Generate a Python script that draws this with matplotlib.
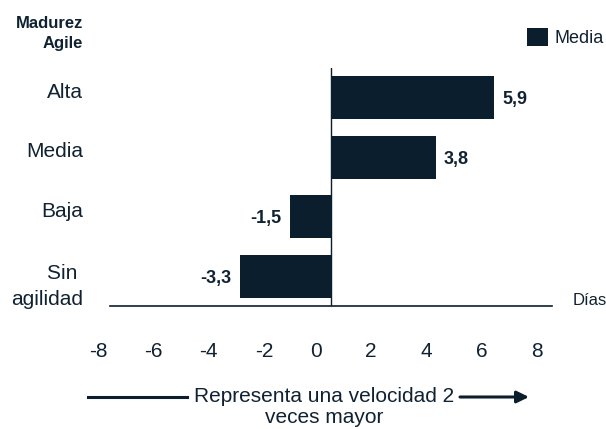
import matplotlib
matplotlib.use("Agg")
import matplotlib.pyplot as plt
from matplotlib.transforms import ScaledTranslation, blended_transform_factory
from matplotlib.patches import Patch, FancyArrowPatch

# ---------------- data ----------------
categories = ["Sin \nagilidad", "Baja", "Media", "Alta"]
values = [-3.3, -1.5, 3.8, 5.9]
value_labels = ["-3,3", "-1,5", "3,8", "5,9"]
x_ticks = [-8, -6, -4, -2, 0, 2, 4, 6, 8]
x_tick_labels = ["-8", "-6", "-4", "-2", "0", "2", "4", "6", "8"]
series_name = "Media"
y_title = "Madurez\nAgile"
x_unit = "Días"
note = "Representa una velocidad 2\nveces mayor"

# ---------------- style ----------------
W, H, DPI = 606, 429, 100
BAR = "#0a1e2d"
TXT = "#102231"
PT = 72 / DPI  # points per pixel
plt.rcParams["font.family"] = ["Liberation Sans", "DejaVu Sans"]

fig = plt.figure(figsize=(W / DPI, H / DPI), dpi=DPI)

def fx(px):
    return px / W

def fy(py):
    return (H - py) / H

ax = fig.add_axes([fx(110), fy(306), fx(552) - fx(110), fy(68) - fy(306)])
ypos = list(range(len(categories)))
ax.barh(ypos, values, height=0.72, color=BAR, zorder=3)
ax.axvline(0, color=BAR, lw=1.0, zorder=2)
ax.set_xlim(-8, 8)
ax.set_ylim(-0.5, 3.5)

for s in ["top", "right", "left"]:
    ax.spines[s].set_visible(False)
ax.spines["bottom"].set_color(BAR)
ax.spines["bottom"].set_linewidth(1.2)
ax.set_yticks([])

# x tick labels (left-aligned, shifted left as in the reference)
ax.set_xticks(x_ticks, x_tick_labels)
ax.tick_params(axis="x", length=0, pad=26, labelsize=15, labelcolor=TXT)
shift = ScaledTranslation(-21 / DPI, 0, fig.dpi_scale_trans)
for lab in ax.get_xticklabels():
    lab.set_horizontalalignment("left")
    lab.set_transform(lab.get_transform() + shift)

# category labels (first line baseline near bar centre)
cat_tr = blended_transform_factory(fig.transFigure, ax.transData)
for y, c in zip(ypos, categories):
    extra = c.count("\n")
    ax.annotate(c, (fx(83), y), xycoords=cat_tr,
                xytext=(0, -(2 + 27 * extra) * PT if extra else 0),
                textcoords="offset points", ha="right", va="baseline",
                fontsize=15, color=TXT, linespacing=1.47)

# value labels
for y, v, lab in zip(ypos, values, value_labels):
    off = 8 * PT if v >= 0 else -8 * PT
    ax.annotate(lab, (v, y), xytext=(off, -6.5 * PT), textcoords="offset points",
                ha="left" if v >= 0 else "right", va="baseline",
                fontsize=13, fontweight="bold", color=TXT, zorder=4)

# axis title (top-left); baseline of last line
fig.text(fx(83), fy(48), y_title, ha="right", va="baseline", fontsize=12,
         fontweight="bold", color=TXT, linespacing=1.43)

# unit label at the end of the axis
ax.text(1, 0, x_unit, transform=ax.transAxes + ScaledTranslation(21 / DPI, 1 / DPI, fig.dpi_scale_trans),
        ha="left", va="baseline", fontsize=12, color=TXT)

# legend
leg = fig.legend(handles=[Patch(facecolor=BAR, edgecolor="none", label=series_name)],
                 loc="upper right", bbox_to_anchor=(fx(604), fy(28)), frameon=False,
                 borderpad=0, borderaxespad=0, handlelength=1.16, handleheight=1.16,
                 handletextpad=0.35, fontsize=13)
for t in leg.get_texts():
    t.set_color(TXT)

# bottom note with arrows (baseline of last line)
fig.text(fx(324), fy(423), note, ha="center", va="baseline", fontsize=15,
         color=TXT, linespacing=1.12)
fig.add_artist(plt.Line2D([fx(88), fx(187)], [fy(397), fy(397)], color=BAR, lw=2.2,
                          transform=fig.transFigure))
fig.add_artist(FancyArrowPatch(
    (fx(460), fy(397)), (fx(529), fy(397)), transform=fig.transFigure,
    arrowstyle="-|>,head_length=4.5,head_width=2.2", mutation_scale=1.6,
    color=BAR, lw=2.2, shrinkA=0, shrinkB=0))

fig.savefig("out.png", dpi=DPI)
